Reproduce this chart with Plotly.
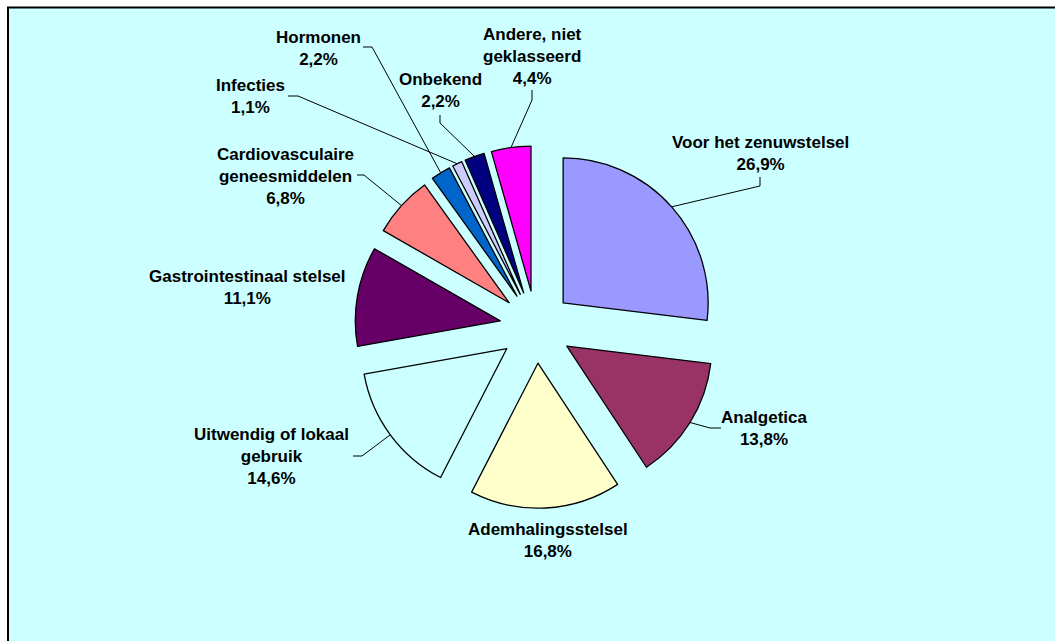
import math
import plotly.graph_objects as go

# ---- data ----
categories = ["Voor het zenuwstelsel", "Analgetica", "Ademhalingsstelsel",
              "Uitwendig of lokaal gebruik", "Gastrointestinaal stelsel",
              "Cardiovasculaire geneesmiddelen", "Hormonen", "Infecties",
              "Onbekend", "Andere, niet geklasseerd"]
display_names = ["Voor het zenuwstelsel", "Analgetica", "Ademhalingsstelsel",
                 "Uitwendig of lokaal<br>gebruik", "Gastrointestinaal stelsel",
                 "Cardiovasculaire<br>geneesmiddelen", "Hormonen", "Infecties",
                 "Onbekend", "Andere, niet<br>geklasseerd"]
values = [26.9, 13.8, 16.8, 14.6, 11.1, 6.8, 2.2, 1.1, 2.2, 4.4]
colors = ["#9999FF", "#993366", "#FFFFCC", "#CCFFFF", "#660066",
          "#FF8080", "#0066CC", "#CCCCFF", "#000080", "#FF00FF"]

# ---- layout (pixels) ----
W, H = 1055, 641
CX, CY = 536, 327          # pie centre
R = 145                    # pie radius
PULL = 0.25                # explode fraction of radius
box = 2 * R * (1 + PULL)   # plotly pie domain box size

# label centres and leader-line label-side points (pixels)
label_pos = [(760, 153), (764, 428), (548, 540), (271, 456), (247, 287),
             (285, 177), (318, 48), (251, 97), (440, 91), (532, 56)]
leader_knees = [
    [(760, 177), (760, 186)],
    [(721, 428), (710, 428)],
    None,
    [(353, 456), (362, 456)],
    None,
    [(357, 175), (364, 175)],
    [(363, 47), (372, 47)],
    [(288, 96), (298, 96)],
    [(440, 115), (440, 123)],
    [(532, 90), (532, 100)],
]


def px(x):
    return x / W


def py(y):
    return 1 - y / H


fig = go.Figure(go.Pie(
    labels=categories,
    values=values,
    sort=False,
    direction="clockwise",
    rotation=0,
    pull=[PULL] * len(values),
    marker=dict(colors=colors, line=dict(color="black", width=1.3)),
    textinfo="none",
    hoverinfo="skip",
    showlegend=False,
    domain=dict(x=[(CX - box / 2) / W, (CX + box / 2) / W],
                y=[(H - CY - box / 2) / H, (H - CY + box / 2) / H]),
))

shapes = [dict(type="rect", xref="paper", yref="paper", layer="below",
               x0=px(8), x1=1.05, y0=-0.05, y1=py(7.5),
               fillcolor="#CCFFFF", line=dict(color="black", width=2))]

annotations = []
total = sum(values)
cum = 0.0
for i, v in enumerate(values):
    mid = (cum + v / 2) / total * 2 * math.pi
    cum += v
    dx, dy = math.sin(mid), -math.cos(mid)
    # outer arc midpoint of exploded slice
    ax_ = CX + PULL * R * dx + R * dx
    ay_ = CY + PULL * R * dy + R * dy
    pct = f"{v:.1f}".replace(".", ",") + "%"
    lx, ly = label_pos[i]
    annotations.append(dict(
        x=px(lx), y=py(ly), xref="paper", yref="paper",
        xanchor="center", yanchor="middle", showarrow=False,
        text=f"<b>{display_names[i]}<br>{pct}</b>",
        font=dict(family="Arial, Liberation Sans, sans-serif", size=17, color="black"),
    ))
    if leader_knees[i]:
        pts = leader_knees[i] + [(ax_, ay_)]
        path = "M " + " L ".join(f"{px(x):.5f},{py(y):.5f}" for x, y in pts)
        shapes.append(dict(type="path", xref="paper", yref="paper", path=path,
                           line=dict(color="black", width=1)))

fig.update_layout(
    width=W, height=H,
    margin=dict(l=0, r=0, t=0, b=0),
    paper_bgcolor="white",
    plot_bgcolor="white",
    shapes=shapes,
    annotations=annotations,
)

fig.write_html("out.html",
               config={"displayModeBar": False},
               post_script="document.body.style.margin='0';document.body.style.overflow='hidden';")
